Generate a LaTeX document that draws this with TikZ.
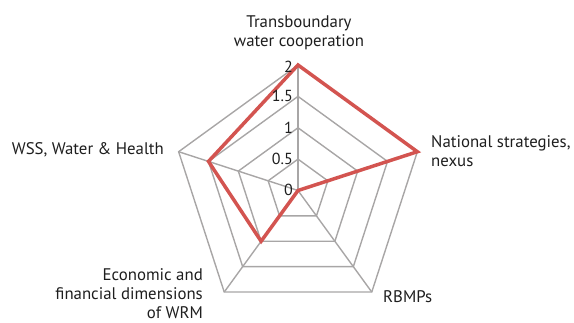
\documentclass[tikz,border=0pt]{standalone}
\usepackage{fontspec}
\setmainfont{PT Sans}
\definecolor{gridgray}{RGB}{168,166,166}
\definecolor{seriesred}{RGB}{211,84,80}
\definecolor{txt}{RGB}{30,30,30}
\begin{document}
\begin{tikzpicture}[x=1pt,y=1pt,
  grid/.style={draw=gridgray, line width=1.4pt},
  series/.style={draw=seriesred, line width=3.5pt, line join=miter},
  axlabel/.style={font=\fontsize{16.8}{19}\selectfont, text=txt, inner sep=0pt},
  ticklabel/.style={font=\fontsize{16}{16}\selectfont, text=txt, anchor=east, inner sep=0pt}]
\useasboundingbox (0,0) rectangle (574,-322);
\coordinate (C) at (298,-190.5);
\begin{scope}[shift={(298,-190.5)}]
  \foreach \r in {31.375,62.75,94.125,125.5}
    \draw[grid] (90:\r) -- (18:\r) -- (-54:\r) -- (-126:\r) -- (162:\r) -- cycle;
  \foreach \a in {90,18,-54,-126,162}
    \draw[grid] (0,0) -- (\a:125.5);
  \draw[series] (90:125.5) -- (18:125.5) -- (0,0) -- (-126:62.75) -- (162:94.125) -- cycle;
  \node[ticklabel] (t0) at (-5,1) {0};
  \node[ticklabel] (t05) at (-5,31.375) {0.5};
  \node[ticklabel] (t1) at (-5,62.75) {1};
  \node[ticklabel] (t15) at (-5,94.125) {1.5};
  \node[ticklabel] (t2) at (-5,123.5) {2};
\end{scope}
\node[axlabel, align=center] (trans) at (299,-33) {Transboundary\\water cooperation};
\node[axlabel, align=left, anchor=west] (nat) at (431,-151) {National strategies,\\nexus};
\node[axlabel, anchor=east] (wss) at (164,-150) {WSS, Water \& Health};
\node[axlabel, align=right, anchor=east] (eco) at (203,-293.5) {Economic and\\financial dimensions\\of WRM};
\node[axlabel, anchor=west] (rbmp) at (383,-297) {RBMPs};
\end{tikzpicture}
\end{document}
